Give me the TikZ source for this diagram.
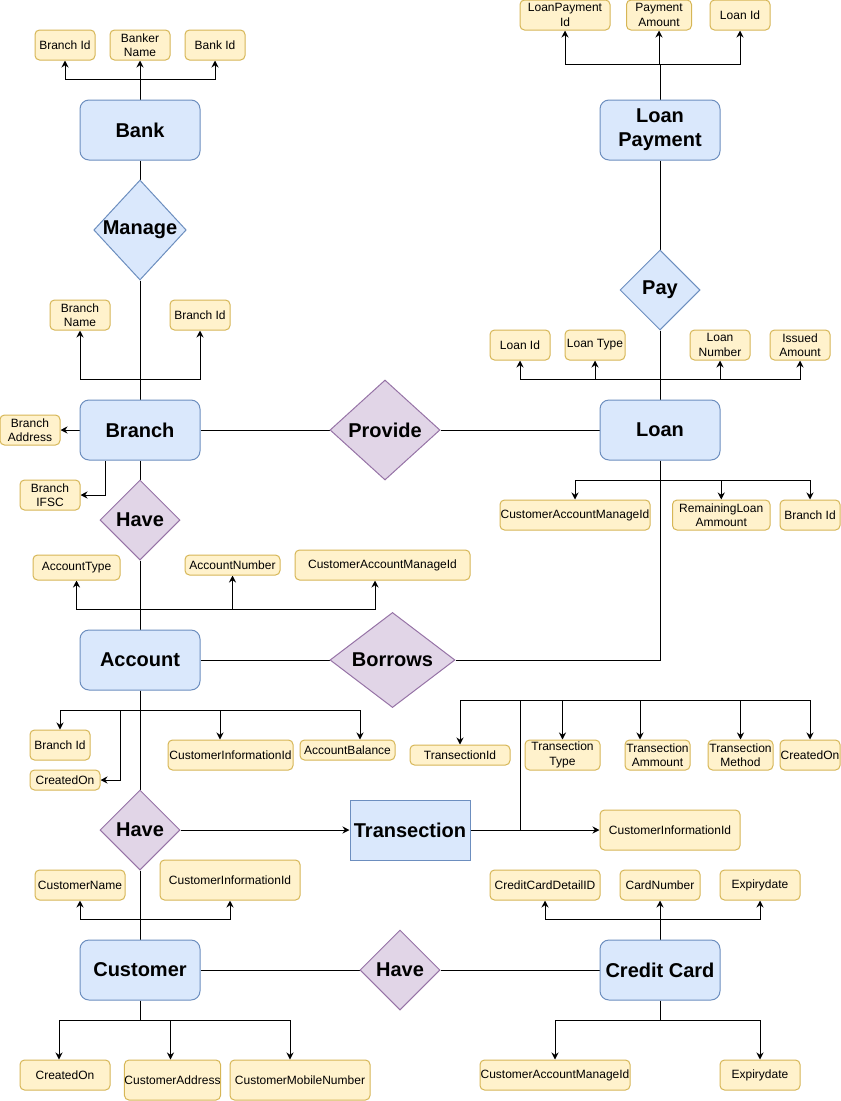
\documentclass[tikz,border=0pt]{standalone}
\usepackage{fontspec}
\setmainfont{Liberation Sans}
\usetikzlibrary{shapes.geometric,arrows.meta,backgrounds,calc}
\definecolor{entFill}{HTML}{DAE8FC}
\definecolor{entDraw}{HTML}{6C8EBF}
\definecolor{attrFill}{HTML}{FFF2CC}
\definecolor{attrDraw}{HTML}{D6B656}
\definecolor{relFill}{HTML}{E1D5E7}
\definecolor{relDraw}{HTML}{9673A6}
\begin{document}
\begin{tikzpicture}[x=1pt,y=-1pt,
  ent/.style={draw=entDraw,fill=entFill,line width=1pt,rounded corners=9pt,minimum width=120pt,minimum height=60pt,inner sep=0pt,align=center,font=\fontsize{20pt}{24pt}\selectfont\bfseries},
  entsq/.style={ent,rounded corners=0pt},
  rel/.style={diamond,draw=relDraw,fill=relFill,line width=1pt,inner sep=0pt,align=center,font=\fontsize{20pt}{24pt}\selectfont\bfseries},
  relblue/.style={rel,draw=entDraw,fill=entFill},
  attr/.style={draw=attrDraw,fill=attrFill,line width=1pt,rounded corners=4.5pt,inner sep=0pt,align=center,font=\fontsize{12pt}{14.4pt}\selectfont},
  conn/.style={line width=1pt,black},
  arr/.style={conn,-{Stealth[length=7pt,width=7pt]}}
]
\useasboundingbox (0,0) rectangle (841,1101);
\newcommand\attrnode[6]{\node[attr,minimum width=#4pt,minimum height=#5pt] (#1) at (#2,#3) {#6};}

% entities
\node[ent] (bank) at (140,130) {Bank};
\node[ent] (lp) at (660,130) {Loan\\Payment};
\node[ent] (branch) at (140,430) {Branch};
\node[ent] (loan) at (660,430) {Loan};
\node[ent] (account) at (140,660) {Account};
\node[entsq] (trans) at (410,830) {Transection};
\node[ent] (customer) at (140,970) {Customer};
\node[ent] (cc) at (660,970) {Credit Card};

% relationships
\node[relblue,minimum width=90pt,minimum height=100pt] (manage) at (140,230) {Manage};
\node[relblue,minimum width=80pt,minimum height=80pt] (pay) at (660,290) {Pay};
\node[rel,minimum width=110pt,minimum height=100pt] (provide) at (385,430) {Provide};
\node[rel,minimum width=80pt,minimum height=80pt] (have1) at (140,520) {Have};
\node[rel,minimum width=125pt,minimum height=90pt] (borrows) at (392.5,660) {Borrows};
\node[rel,minimum width=80pt,minimum height=80pt] (have2) at (140,830) {Have};
\node[rel,minimum width=80pt,minimum height=80pt] (have3) at (400,970) {Have};

% attributes
\attrnode{bkA}{65}{45}{60}{30}{Branch Id}
\attrnode{bkB}{140}{45}{60}{30}{Banker\\Name}
\attrnode{bkC}{215}{45}{60}{30}{Bank Id}
\attrnode{lpA}{565}{15}{90}{30}{LoanPayment\\Id}
\attrnode{lpB}{659}{15}{65}{30}{Payment\\Amount}
\attrnode{lpC}{740}{15}{60}{30}{Loan Id}
\attrnode{brA}{80}{315}{60}{30}{Branch\\Name}
\attrnode{brB}{200}{315}{60}{30}{Branch Id}
\attrnode{brC}{30}{430}{60}{30}{Branch\\Address}
\attrnode{brD}{50}{495}{60}{30}{Branch\\IFSC}
\attrnode{lnA}{520}{345}{60}{30}{Loan Id}
\attrnode{lnB}{595}{345}{60}{30}{Loan Type}
\attrnode{lnC}{720}{345}{60}{30}{Loan\\Number}
\attrnode{lnD}{800}{345}{60}{30}{Issued\\Amount}
\attrnode{lnE}{575}{515}{150}{30}{CustomerAccountManageId}
\attrnode{lnF}{721.25}{515}{97.5}{30}{RemainingLoan\\Ammount}
\attrnode{lnG}{810}{515}{60}{30}{Branch Id}
\attrnode{acA}{76.5}{567.5}{87}{25}{AccountType}
\attrnode{acB}{232.5}{565}{95}{20}{AccountNumber}
\attrnode{acC}{382.5}{565}{175}{30}{CustomerAccountManageId}
\attrnode{acD}{60}{745}{60}{30}{Branch Id}
\attrnode{acE}{65}{780}{70}{20}{CreatedOn}
\attrnode{acF}{230.5}{755}{125}{30}{CustomerInformationId}
\attrnode{acG}{347.5}{750}{95}{20}{AccountBalance}
\attrnode{trA}{460}{755}{100}{20}{TransectionId}
\attrnode{trB}{562.5}{755}{75}{30}{Transection\\Type}
\attrnode{trC}{657.5}{755}{65}{30}{Transection\\Ammount}
\attrnode{trD}{740.5}{755}{65}{30}{Transection\\Method}
\attrnode{trE}{810}{755}{60}{30}{CreatedOn}
\attrnode{trF}{670}{830}{140}{40}{CustomerInformationId}
\attrnode{cuA}{80}{885}{90}{30}{CustomerName}
\attrnode{cuB}{230}{880}{140}{40}{CustomerInformationId}
\attrnode{cuC}{65}{1075}{90}{30}{CreatedOn}
\attrnode{cuD}{172.5}{1080}{95}{40}{CustomerAddress}
\attrnode{cuE}{300}{1080}{140}{40}{CustomerMobileNumber}
\attrnode{ccA}{545}{885}{110}{30}{CreditCardDetailID}
\attrnode{ccB}{660}{885}{80}{30}{CardNumber}
\attrnode{ccC}{760}{885}{80}{30}{Expirydate}
\attrnode{ccD}{555}{1075}{150}{30}{CustomerAccountManageId}
\attrnode{ccE}{760}{1075}{80}{30}{Expirydate}

\coordinate (tj) at ([xshift=50pt]trans.east);

\begin{scope}[on background layer]
% main skeleton
\draw[conn] (bank.south) -- (manage.north);
\draw[conn] (manage.south) -- (branch.north);
\draw[conn] (branch.south) -- (have1.north);
\draw[conn] (have1.south) -- (account.north);
\draw[conn] (account.south) -- (have2.north);
\draw[conn] (have2.south) -- (customer.north);
\draw[conn] (lp.south) -- (pay.north);
\draw[conn] (pay.south) -- (loan.north);
\draw[conn] (branch.east) -- (provide.west);
\draw[conn] (provide.east) -- (loan.west);
\draw[conn] (account.east) -- (borrows.west);
\draw[conn] (borrows.east) -| (loan.south);
\draw[conn] (customer.east) -- (have3.west);
\draw[conn] (have3.east) -- (cc.west);
\draw[arr] (have2.east) -- (trans.west);

% bank attributes
\draw[arr] (bank.north) -- ++(0,-20) -| (bkA.south);
\draw[arr] (bank.north) -- (bkB.south);
\draw[arr] (bank.north) -- ++(0,-20) -| (bkC.south);
% loan payment attributes
\draw[arr] (lp.north) -- ++(0,-35) -| (lpA.south);
\draw[arr] (lp.north) -- ++(0,-35) -| (lpB.south);
\draw[arr] (lp.north) -- ++(0,-35) -| (lpC.south);
% branch attributes
\draw[arr] (branch.north) -- ++(0,-20) -| (brA.south);
\draw[arr] (branch.north) -- ++(0,-20) -| (brB.south);
\draw[arr] (branch.west) -- (brC.east);
\draw[arr] ([xshift=-35pt]branch.south) |- (brD.east);
% loan attributes
\draw[arr] (loan.north) -- ++(0,-20) -| (lnA.south);
\draw[arr] (loan.north) -- ++(0,-20) -| (lnB.south);
\draw[arr] (loan.north) -- ++(0,-20) -| (lnC.south);
\draw[arr] (loan.north) -- ++(0,-20) -| (lnD.south);
\draw[arr] (loan.south) -- ++(0,20) -| (lnE.north);
\draw[arr] (loan.south) -- ++(0,20) -| (lnF.north);
\draw[arr] (loan.south) -- ++(0,20) -| (lnG.north);
% account attributes
\draw[arr] (account.north) -- ++(0,-20) -| (acA.south);
\draw[arr] (account.north) -- ++(0,-20) -| (acB.south);
\draw[arr] (account.north) -- ++(0,-20) -| ([xshift=-7.5pt]acC.south);
\draw[arr] (account.south) -- ++(0,20) -| (acD.north);
\draw[arr] (account.south) -- ++(0,20) -- ++(-20,0) |- (acE.east);
\draw[arr] (account.south) -- ++(0,20) -| ([xshift=-10.5pt]acF.north);
\draw[arr] (account.south) -- ++(0,20) -| ([xshift=12.5pt]acG.north);
% transection attributes
\draw[arr] (trans.east) -- (trF.west);
\draw[arr] (tj) -- ++(0,-130) -| (trA.north);
\draw[arr] (tj) -- ++(0,-130) -| (trB.north);
\draw[arr] (tj) -- ++(0,-130) -| ([xshift=-17.5pt]trC.north);
\draw[arr] (tj) -- ++(0,-130) -| (trD.north);
\draw[arr] (tj) -- ++(0,-130) -| (trE.north);
% customer attributes
\draw[arr] (customer.north) -- ++(0,-20) -| (cuA.south);
\draw[arr] (customer.north) -- ++(0,-20) -| (cuB.south);
\draw[arr] (customer.south) -- ++(0,20) -| ([xshift=-6pt]cuC.north);
\draw[arr] (customer.south) -- ++(0,20) -| ([xshift=-2pt]cuD.north);
\draw[arr] (customer.south) -- ++(0,20) -| ([xshift=-10pt]cuE.north);
% credit card attributes
\draw[arr] (cc.north) -- ++(0,-20) -| (ccA.south);
\draw[arr] (cc.north) -- (ccB.south);
\draw[arr] (cc.north) -- ++(0,-20) -| (ccC.south);
\draw[arr] (cc.south) -- ++(0,20) -| (ccD.north);
\draw[arr] (cc.south) -- ++(0,20) -| (ccE.north);
\end{scope}
\end{tikzpicture}
\end{document}
